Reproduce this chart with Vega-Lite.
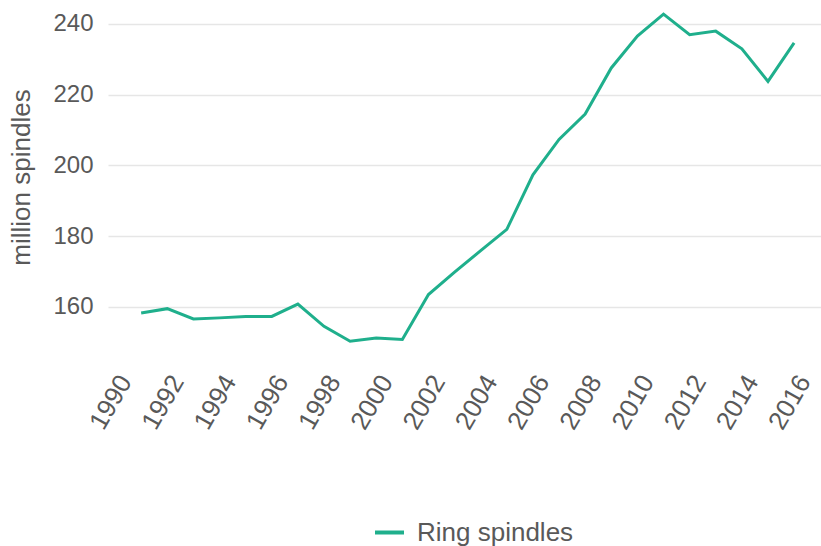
{
  "$schema": "https://vega.github.io/schema/vega-lite/v6.json",
  "width": 713,
  "height": 354,
  "autosize": {"type": "none"},
  "padding": {"left": 108, "top": 6, "right": 0, "bottom": 186},
  "background": "white",
  "config": {
    "view": {"stroke": null},
    "font": "Liberation Sans",
    "axis": {"labelColor": "#595959", "titleColor": "#595959", "labelFont": "Liberation Sans", "titleFont": "Liberation Sans"},
    "legend": {"labelColor": "#595959", "labelFont": "Liberation Sans"}
  },
  "data": {
    "values": [
      {"year": 1991, "value": 158.3, "series": "Ring spindles"},
      {"year": 1992, "value": 159.5, "series": "Ring spindles"},
      {"year": 1993, "value": 156.6, "series": "Ring spindles"},
      {"year": 1994, "value": 156.9, "series": "Ring spindles"},
      {"year": 1995, "value": 157.3, "series": "Ring spindles"},
      {"year": 1996, "value": 157.3, "series": "Ring spindles"},
      {"year": 1997, "value": 160.8, "series": "Ring spindles"},
      {"year": 1998, "value": 154.5, "series": "Ring spindles"},
      {"year": 1999, "value": 150.3, "series": "Ring spindles"},
      {"year": 2000, "value": 151.2, "series": "Ring spindles"},
      {"year": 2001, "value": 150.8, "series": "Ring spindles"},
      {"year": 2002, "value": 163.5, "series": "Ring spindles"},
      {"year": 2003, "value": 169.8, "series": "Ring spindles"},
      {"year": 2004, "value": 175.9, "series": "Ring spindles"},
      {"year": 2005, "value": 181.9, "series": "Ring spindles"},
      {"year": 2006, "value": 197.3, "series": "Ring spindles"},
      {"year": 2007, "value": 207.3, "series": "Ring spindles"},
      {"year": 2008, "value": 214.5, "series": "Ring spindles"},
      {"year": 2009, "value": 227.5, "series": "Ring spindles"},
      {"year": 2010, "value": 236.5, "series": "Ring spindles"},
      {"year": 2011, "value": 242.7, "series": "Ring spindles"},
      {"year": 2012, "value": 236.9, "series": "Ring spindles"},
      {"year": 2013, "value": 237.9, "series": "Ring spindles"},
      {"year": 2014, "value": 232.9, "series": "Ring spindles"},
      {"year": 2015, "value": 223.7, "series": "Ring spindles"},
      {"year": 2016, "value": 234.6, "series": "Ring spindles"}
    ]
  },
  "mark": {"type": "line", "strokeWidth": 3, "strokeJoin": "miter"},
  "encoding": {
    "x": {
      "field": "year",
      "type": "quantitative",
      "scale": {"domain": [1989.73, 2017.03], "nice": false, "zero": false},
      "axis": {
        "title": null,
        "format": "d",
        "values": [1990, 1992, 1994, 1996, 1998, 2000, 2002, 2004, 2006, 2008, 2010, 2012, 2014, 2016],
        "grid": false,
        "domain": false,
        "ticks": false,
        "tickSize": 0,
        "labelAngle": -60,
        "labelFontSize": 26,
        "labelPadding": 17,
        "labelOffset": 10,
        "labelOverlap": false,
        "labelFlush": false
      }
    },
    "y": {
      "field": "value",
      "type": "quantitative",
      "scale": {"domain": [145, 245], "nice": false, "zero": false},
      "axis": {
        "title": "million spindles",
        "values": [160, 180, 200, 220, 240],
        "grid": true,
        "gridColor": "#e6e6e6",
        "gridWidth": 1.5,
        "domain": false,
        "ticks": false,
        "tickSize": 0,
        "labelFontSize": 24,
        "labelPadding": 15,
        "titleFontSize": 26,
        "titleFontWeight": "normal",
        "titlePadding": 18,
        "titleY": 171
      }
    },
    "color": {
      "field": "series",
      "type": "nominal",
      "scale": {"range": ["#1faf8c"]},
      "legend": {
        "title": null,
        "orient": "none",
        "legendX": 265,
        "legendY": 510,
        "direction": "horizontal",
        "padding": 0,
        "symbolType": "stroke",
        "symbolStrokeWidth": 4,
        "symbolSize": 841,
        "labelFontSize": 26,
        "labelOffset": 11
      }
    }
  }
}
